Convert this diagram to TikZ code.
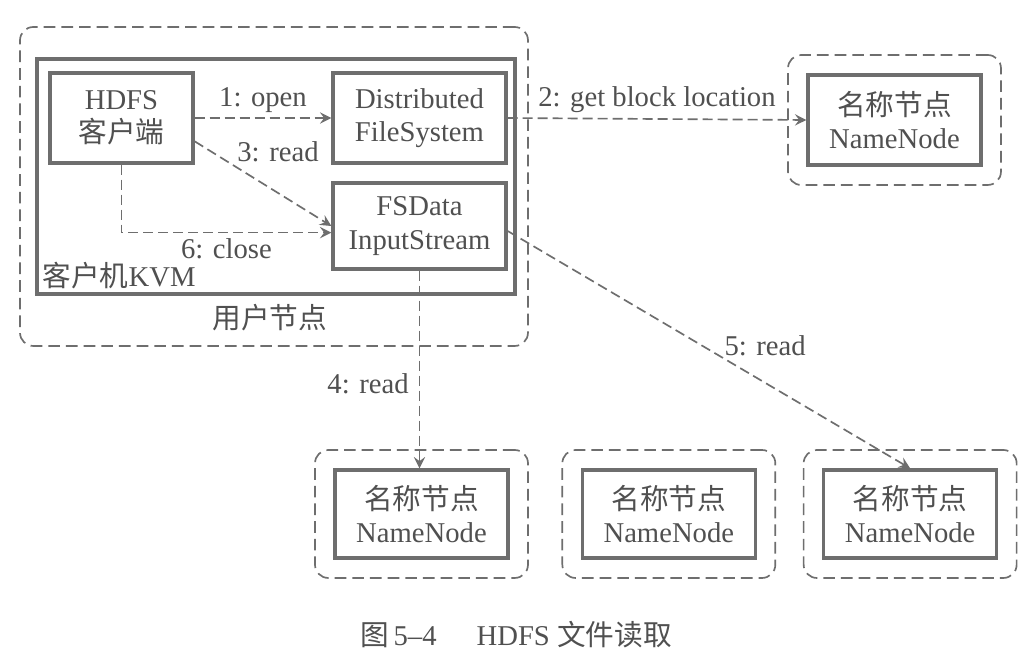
\documentclass[tikz,border=0pt]{standalone}
\usepackage{fontspec}
\setmainfont{Liberation Serif}
\newfontfamily\cjk{Noto Sans CJK SC}
\usetikzlibrary{fit}
\usetikzlibrary{positioning}
\definecolor{inkgray}{HTML}{505050}
\definecolor{linegray}{HTML}{6E6E6E}

\begin{document}
\begin{tikzpicture}[x=0.3pt,y=-0.3pt,>=stealth,
  every node/.style={text=inkgray,font=\fontsize{8.6}{10}\selectfont,align=center},
  box/.style={draw=linegray,line width=1pt,minimum width=51.9pt,minimum height=27pt,inner sep=0pt},
  hostbox/.style={draw=linegray,line width=0.5pt,dash pattern=on 3.5pt off 1.8pt,rounded corners=4pt,inner sep=5.5pt},
  flow/.style={->,draw=linegray,line width=0.5pt,dash pattern=on 3pt off 1.5pt},
  lbl/.style={inner sep=1pt}]
  \fill[white] (0,0) rectangle (1024,669);
  \useasboundingbox (0,0) rectangle (1024,669);
  % user node
  \node[box,minimum width=42.9pt](client) at (121.5,118) {HDFS\\{\cjk 客户端}};
  \node[box](dfs) at (419.5,118) {Distributed\\FileSystem};
  \node[box,minimum height=25.8pt](fsin) at (419.5,226) {FSData\\InputStream};
  \node[draw=linegray,line width=1pt,minimum width=143.4pt,minimum height=70.5pt](kvm) at (276,176.5) {};
  \node[anchor=west,inner sep=0pt](kvmlbl) at (42,276) {{\cjk 客户机}KVM};
  \node(userlbl) at (270,318) {{\cjk 用户节点}};
  \node[hostbox,minimum width=152.4pt,minimum height=95.7pt](user) at (274,186.5) {};
  % name nodes
  \node[box](nntop) at (894.5,120) {{\cjk 名称节点}\\NameNode};
  \node[hostbox,fit=(nntop)](nnhost) {};
  \node[box,minimum height=26.4pt](nnA) at (421.5,514) {{\cjk 名称节点}\\NameNode};
  \node[box,minimum height=26.4pt,right=21.3pt of nnA](nnB) {{\cjk 名称节点}\\NameNode};
  \node[box,minimum height=26.4pt,right=19.5pt of nnB](nnC) {{\cjk 名称节点}\\NameNode};
  \foreach \n in {nnA,nnB,nnC}
    \node[hostbox,fit=(\n)] {};
  % caption
  \node(caption) at (516,635) {{\cjk 图}\,5--4\hspace{12pt}HDFS\ {\cjk 文件读取}};
  % flows
  \draw[flow] (client.east) -- (dfs.west) node[lbl,midway,above=0.5pt] {1: open};
  \draw[flow] (dfs.east) -- (nntop.west) node[lbl,midway,above=0.5pt] {2: get block location};
  \draw[flow] ([yshift=-7pt]client.east) -- (fsin.west) node[lbl,midway,xshift=4.5pt,yshift=9.6pt] {3: read};
  \draw[flow] (fsin.south) -- (fsin.south |- nnA.north) node[lbl,pos=0.57,left=2pt] {4: read};
  \draw[flow] ([yshift=-1.5pt]fsin.east) -- (nnC.north) node[lbl,pos=0.6,xshift=4.8pt,yshift=8.4pt] {5: read};
  \draw[flow] (client.south) |- ([yshift=-2pt]fsin.west) node[lbl,pos=0.75,below=0.5pt] {6: close};
\end{tikzpicture}
\end{document}
